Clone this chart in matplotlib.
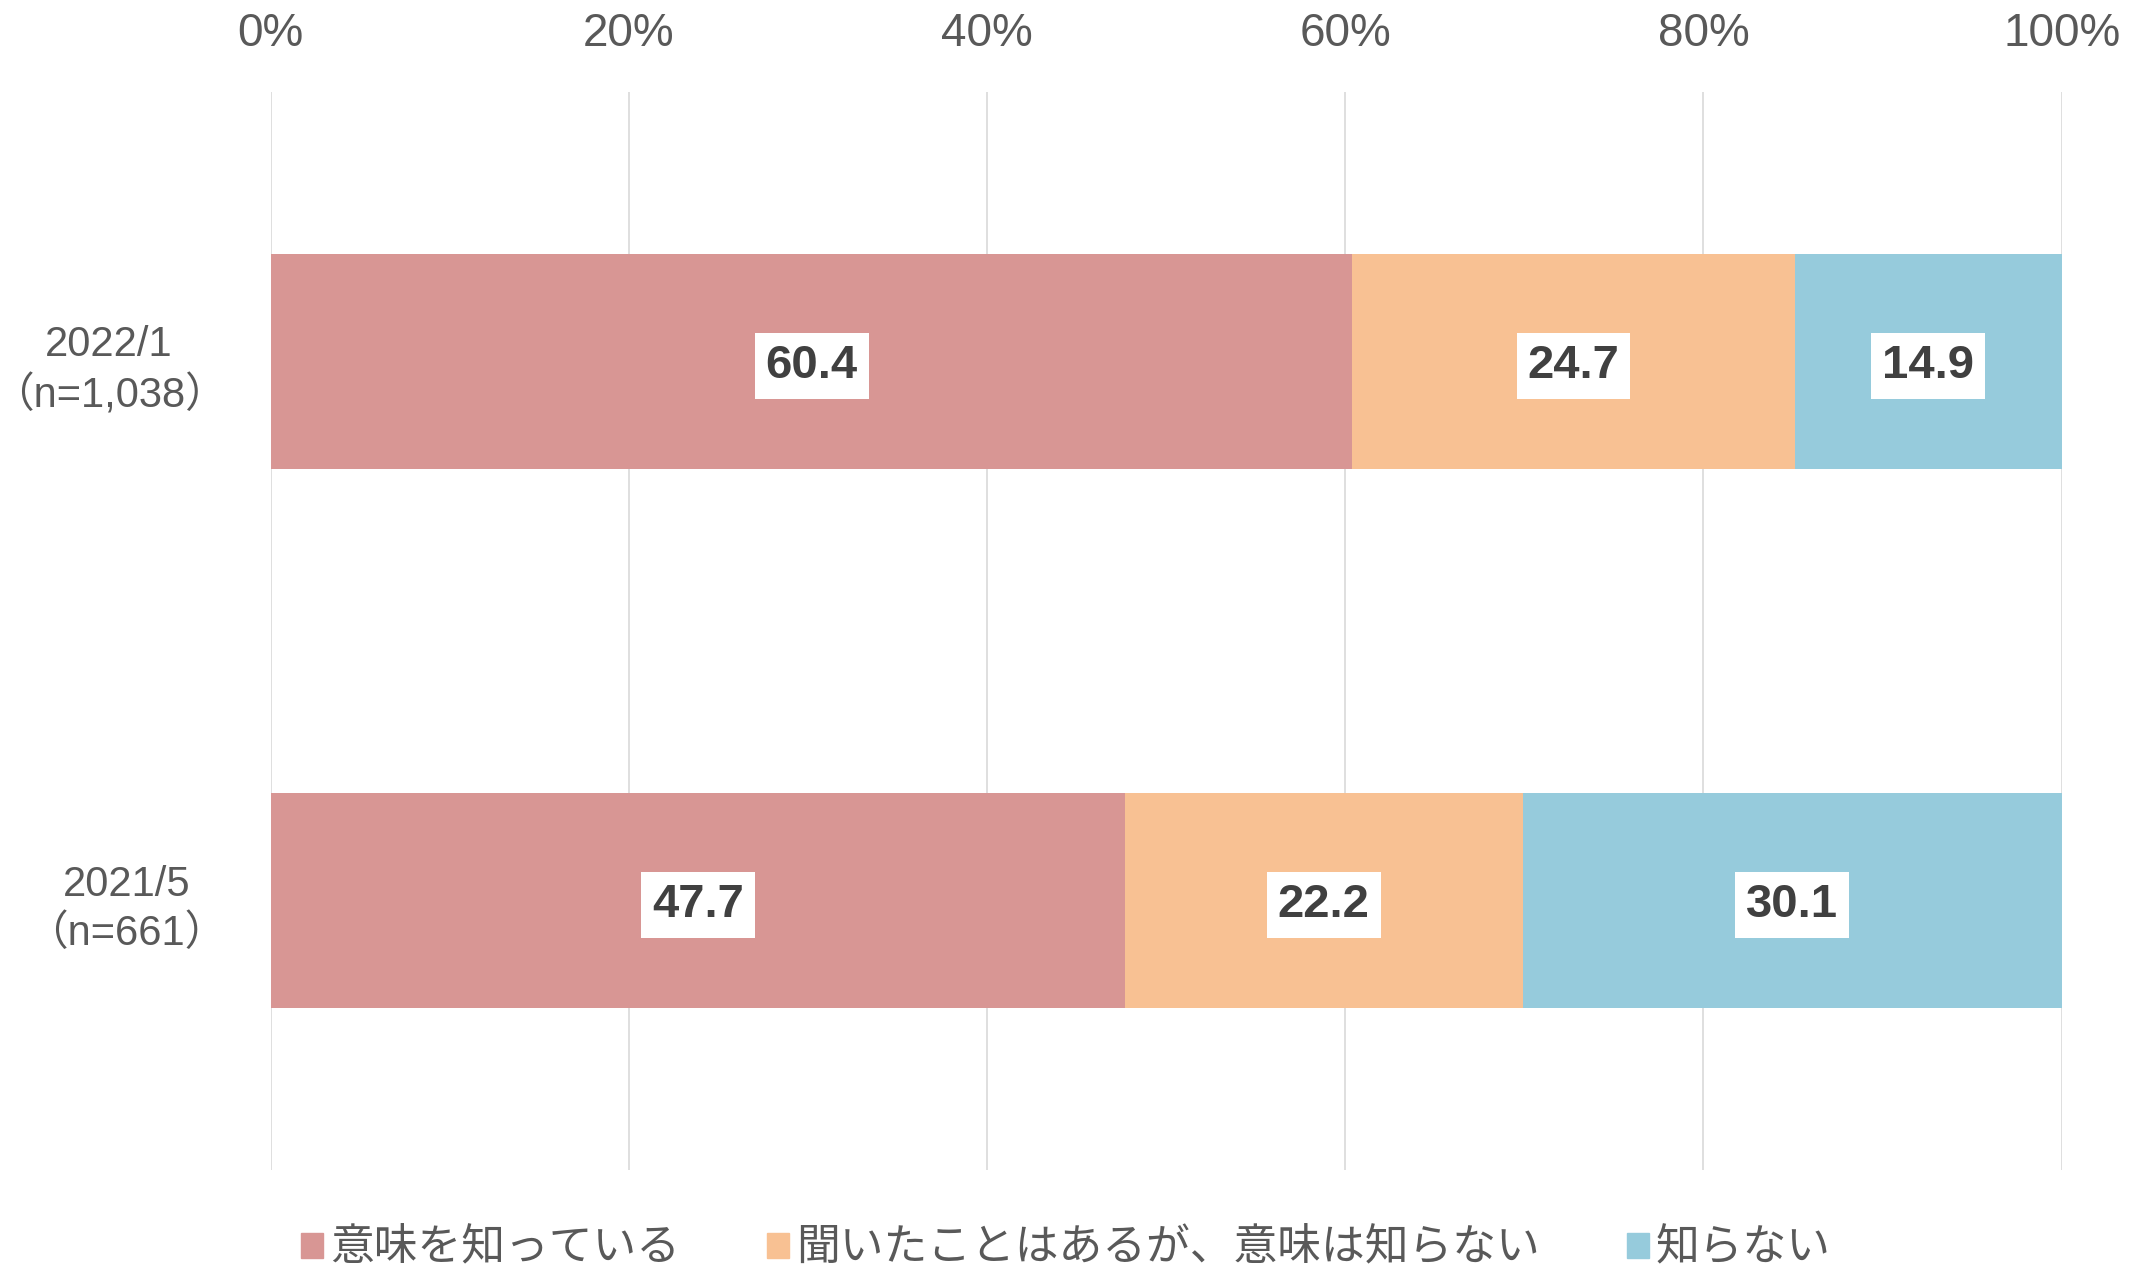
import matplotlib.pyplot as plt
import matplotlib.transforms as mtransforms
from matplotlib.patches import Patch

plt.rcParams['font.family'] = ['Liberation Sans', 'Noto Sans CJK JP', 'DejaVu Sans']

# data
periods = ["2021/5\n（n=661）", "2022/1\n（n=1,038）"]
series_names = ["意味を知っている", "聞いたことはあるが、意味は知らない", "知らない"]
know = [47.7, 60.4]
heard = [22.2, 24.7]
dont_know = [30.1, 14.9]
ticks = [0, 20, 40, 60, 80, 100]
tick_labels = ["0%", "20%", "40%", "60%", "80%", "100%"]

colors = ["#d89694", "#f8c193", "#96cbdc"]

fig = plt.figure(figsize=(21.32, 12.88), dpi=100)
ax = fig.add_axes([0.127, 0.0916, 0.840, 0.837])

# nudge value labels down a little so the digits sit on the bar centre
label_tf = ax.transData + mtransforms.ScaledTranslation(0, -3 / 72, fig.dpi_scale_trans)

values = [know, heard, dont_know]
ypos = list(range(len(periods)))
left = [0.0] * len(periods)
for vals, col in zip(values, colors):
    ax.barh(ypos, vals, left=left, height=0.4, color=col, zorder=2)
    for y, v, l in zip(ypos, vals, left):
        ax.text(l + v / 2, y, f"{v:.1f}", ha="center", va="center",
                fontsize=34, fontweight="bold", color="#404040", zorder=3,
                transform=label_tf,
                bbox=dict(boxstyle="square,pad=0.23", fc="white", ec="none"))
    left = [a + b for a, b in zip(left, vals)]

ax.set_xlim(0, 100)
ax.set_ylim(-0.5, 1.5)
ax.set_xticks(ticks)
ax.set_xticklabels(tick_labels)
ax.xaxis.tick_top()
ax.tick_params(axis="x", length=0, pad=26, labelsize=33, labelcolor="#595959")
ax.set_yticks(ypos)
ax.set_yticklabels(periods, multialignment="center", linespacing=1.3)
ax.tick_params(axis="y", length=0, pad=32, labelsize=30, labelcolor="#595959")
ax.grid(axis="x", color="#d9d9d9", linewidth=1.2, zorder=0)
ax.set_axisbelow(True)
for s in ax.spines.values():
    s.set_visible(False)

handles = [Patch(color=c) for c in colors]
leg = fig.legend(handles, series_names, loc="center", bbox_to_anchor=(0.5, 0.030),
                 ncol=3, frameon=False, fontsize=31.5, handlelength=0.5,
                 handleheight=0.5, handletextpad=0.15, columnspacing=2.0)
for t in leg.get_texts():
    t.set_color("#595959")

fig.savefig("out.png", dpi=100)
